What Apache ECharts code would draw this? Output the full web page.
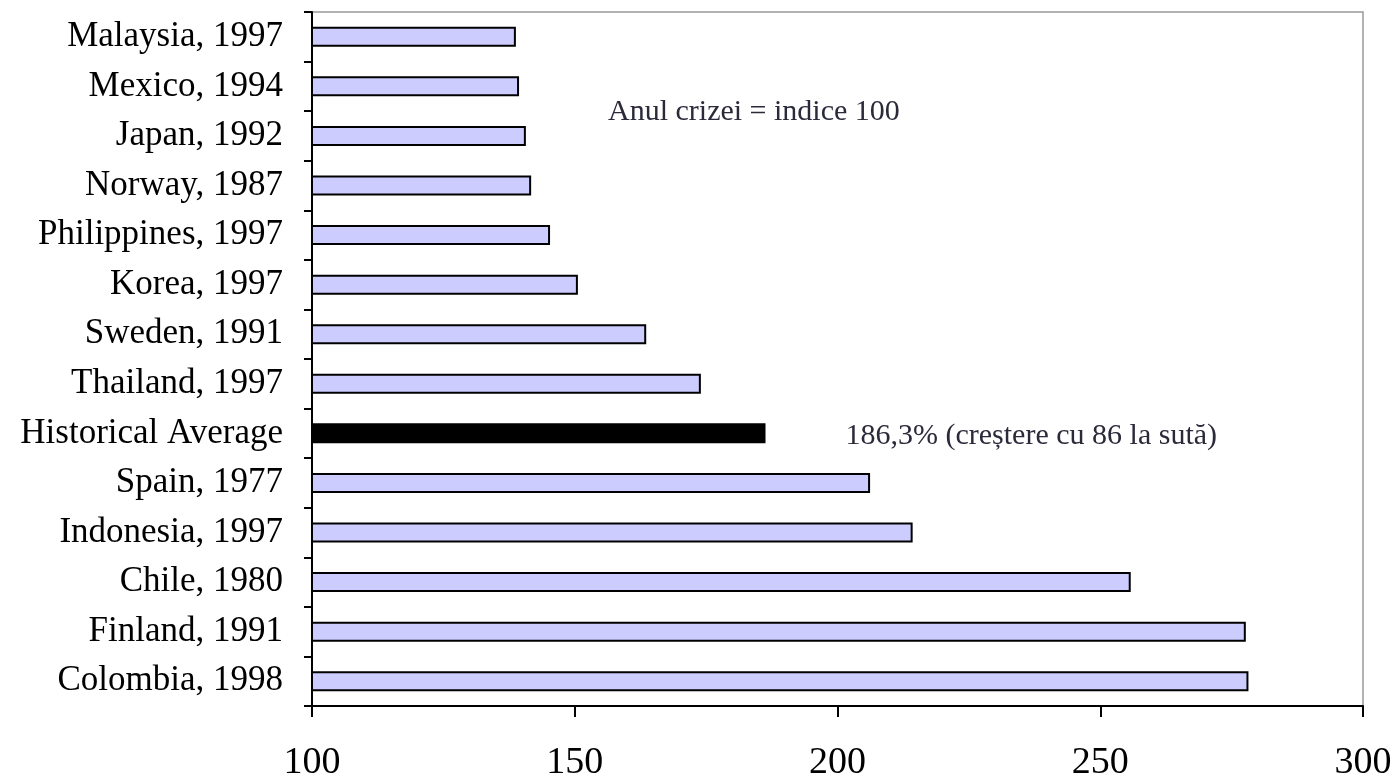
<!DOCTYPE html>
<html>
<head>
<meta charset="utf-8">
<script src="https://cdn.jsdelivr.net/npm/echarts@6/dist/echarts.min.js"></script>
<style>
html,body{margin:0;padding:0;background:#fff;}
#chart{width:1397px;height:777px;}
</style>
</head>
<body>
<div id="chart"></div>
<script>
var categories = ["Malaysia, 1997","Mexico, 1994","Japan, 1992","Norway, 1987","Philippines, 1997","Korea, 1997","Sweden, 1991","Thailand, 1997","Historical Average","Spain, 1977","Indonesia, 1997","Chile, 1980","Finland, 1991","Colombia, 1998"];
var values = [138.8,139.4,140.7,141.7,145.3,150.6,163.6,174.0,186.3,206.2,214.3,255.8,277.7,278.2];
var highlightCategory = "Historical Average";
var highlightLabel = "186,3% (creștere cu 86 la sută)";
var noteText = "Anul crizei = indice 100";
var xMin = 100, xMax = 300, xStep = 50;

var chart = echarts.init(document.getElementById('chart'), null, {renderer:'canvas'});
var font = '"Liberation Serif","Times New Roman",serif';

var seriesData = values.map(function(v, i){
  var item = {value: v};
  if (categories[i] === highlightCategory) {
    item.itemStyle = {color:'#000000', borderColor:'#000000'};
    item.label = {show:true, position:'right', distance:80, formatter: highlightLabel,
      fontFamily: font, fontSize: 30, color:'#2a2a3a', offset:[0,3]};
  }
  return item;
});

chart.setOption({
  animation:false,
  backgroundColor:'#ffffff',
  grid:{left:312, right:34, top:12, bottom:71, containLabel:false, outerBoundsMode:'none',
        show:true, borderColor:'#999999', borderWidth:1.5, backgroundColor:'transparent'},
  xAxis:{
    type:'value', min:xMin, max:xMax, interval:xStep,
    axisLine:{show:true, lineStyle:{color:'#000', width:2}},
    axisTick:{show:true, length:11, lineStyle:{color:'#000', width:2}},
    splitLine:{show:false},
    axisLabel:{fontFamily:font, fontSize:38, color:'#000', margin:38}
  },
  yAxis:{
    type:'category', data:categories, inverse:true,
    axisLine:{show:true, lineStyle:{color:'#000', width:2}},
    axisTick:{show:true, length:8, lineStyle:{color:'#000', width:2}},
    axisLabel:{fontFamily:font, fontSize:35, color:'#000', margin:29}
  },
  graphic:[{
    type:'text', left:608, top:97,
    style:{text:noteText, fontFamily:font, fontSize:30, fill:'#2a2a3a'}
  }],
  series:[{
    type:'bar', data:seriesData, barWidth:20,
    itemStyle:{color:'#CCCCFF', borderColor:'#000', borderWidth:2}
  }]
});
</script>
</body>
</html>
